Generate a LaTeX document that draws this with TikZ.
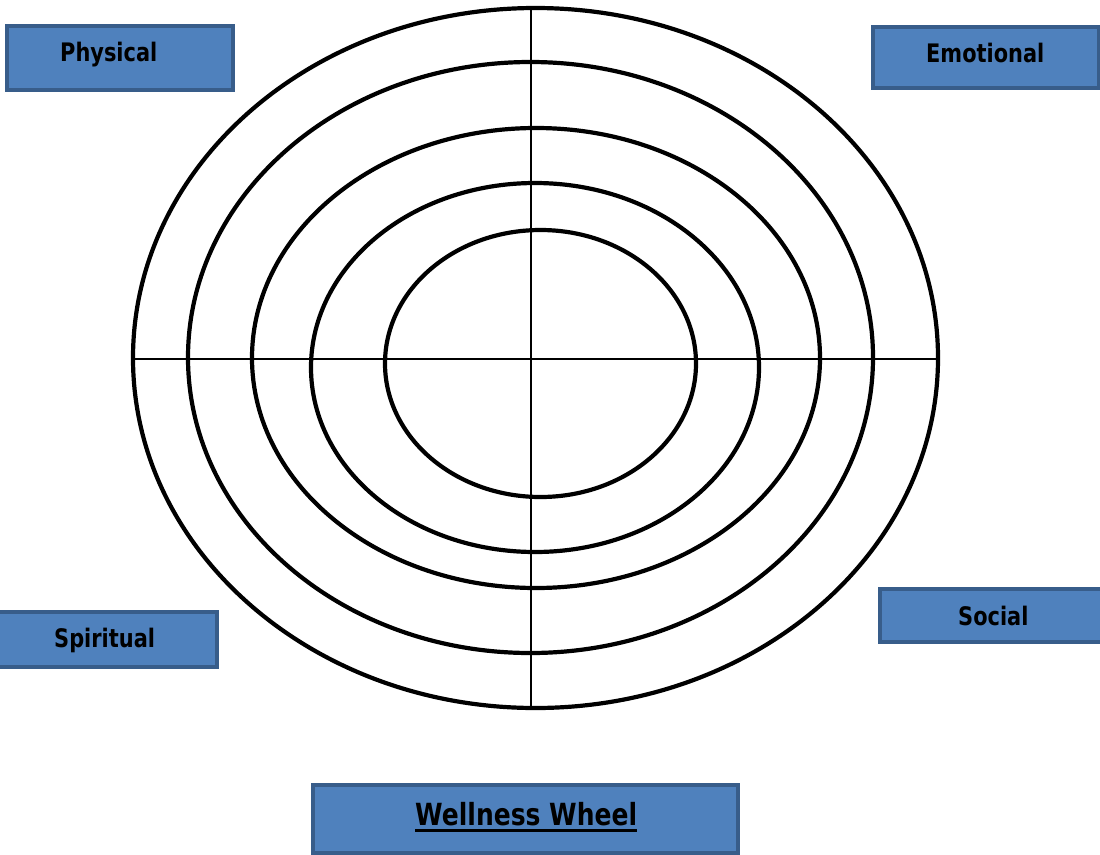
\documentclass[tikz,border=0pt]{standalone}
\usepackage{fontspec}
\newfontfamily\labfont[FakeStretch=0.82]{DejaVu Sans}
\definecolor{boxfill}{HTML}{4F81BD}
\definecolor{boxline}{HTML}{385D8A}
\tikzset{
  ring/.style={draw=black, line width=4.2pt},
  axis/.style={draw=black, line width=1.8pt},
  labbox/.style={draw=boxline, fill=boxfill, line width=3.5pt},
  labtext/.style={anchor=base west, inner sep=0pt, font=\labfont\bfseries\fontsize{25.5}{30}\selectfont},
  titletext/.style={anchor=base west, inner sep=0pt, font=\labfont\bfseries\fontsize{30.5}{36}\selectfont}
}
\begin{document}
\begin{tikzpicture}[x=1pt,y=-1pt]
\useasboundingbox (0,0) rectangle (1100,854);
% rings
\draw[ring] (535.5,358) ellipse [x radius=402.5pt, y radius=350pt];
\draw[ring] (530.5,357.5) ellipse [x radius=342.5pt, y radius=295.5pt];
\draw[ring] (536,358) ellipse [x radius=284pt, y radius=230pt];
\draw[ring] (535,367.5) ellipse [x radius=224pt, y radius=184.5pt];
\draw[ring] (540.5,363.5) ellipse [x radius=155.5pt, y radius=133.5pt];
% axes
\coordinate (hl) at (133,359);
\coordinate (hr) at (938,359);
\coordinate (vt) at (530.7,8);
\coordinate (vb) at (530.7,708);
\draw[axis] (hl) -- (hr);
\draw[axis] (vt) -- (vb);
% label boxes
\path[labbox] (7,26) rectangle (233,90);
\node[labtext] (physical) at (60,61.5) {Physical};
\path[labbox] (873,27) rectangle (1099,88);
\node[labtext] (emotional) at (926,62) {Emotional};
\path[labbox] (-3,612) rectangle (217,667);
\node[labtext] (spiritual) at (54,647) {Spiritual};
\path[labbox] (880,589) rectangle (1103,642);
\node[labtext] (social) at (958,625) {Social};
\path[labbox] (313,785) rectangle (738,853);
\node[titletext] (ww) at (415,825) {Wellness Wheel};
\draw[line width=2.4pt] ([yshift=-5.5pt]ww.base west) -- ([yshift=-5.5pt]ww.base east);
\end{tikzpicture}
\end{document}
